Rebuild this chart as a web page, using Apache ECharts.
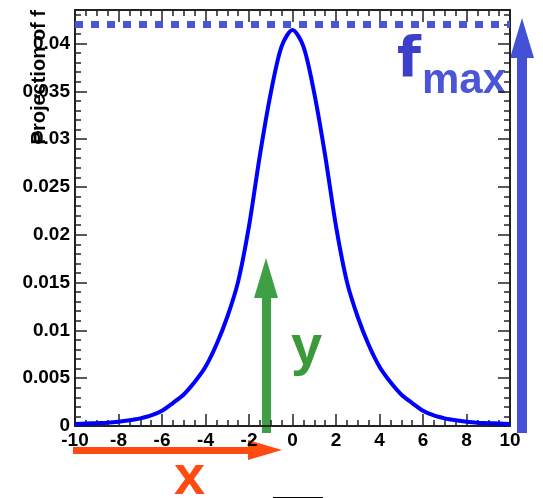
<!DOCTYPE html>
<html>
<head>
<meta charset="utf-8">
<script src="https://cdn.jsdelivr.net/npm/echarts@6/dist/echarts.min.js"></script>
<style>
  html, body { margin: 0; padding: 0; background: #fff; }
  #main { width: 543px; height: 498px; }
</style>
</head>
<body>
<div id="main"></div>
<script>
// values
var xValues = [-10, -9.5, -9, -8.5, -8, -7.5, -7, -6.5, -6, -5.5, -5, -4.5, -4, -3.5, -3, -2.5, -2, -1.5, -1, -0.5,
  0, 0.5, 1, 1.5, 2, 2.5, 3, 3.5, 4, 4.5, 5, 5.5, 6, 6.5, 7, 7.5, 8, 8.5, 9, 9.5, 10];
var fValues = [0.0002, 0.00025, 0.0003, 0.00035, 0.00045, 0.0006, 0.0008, 0.0011, 0.0016, 0.0024, 0.0033, 0.0046,
  0.0062, 0.0085, 0.0114, 0.0151, 0.0209, 0.0283, 0.0348, 0.0397,
  0.0414, 0.0397, 0.0348, 0.0283, 0.0209, 0.0151, 0.0114, 0.0085, 0.0062, 0.0046, 0.0033, 0.0024, 0.0016,
  0.0011, 0.0008, 0.0006, 0.00045, 0.00035, 0.0003, 0.00025, 0.0002];
var fMax = 0.0420;

var points = xValues.map(function (x, i) { return [x, fValues[i]]; });

var myChart = echarts.init(document.getElementById('main'));

var labelFont = { color: '#000', fontWeight: 'bold', fontSize: 19, fontFamily: 'Liberation Sans' };
var axisLine = { show: true, onZero: false, lineStyle: { color: '#222', width: 2 } };

function xAx(pos, labels) {
  return {
    type: 'value', position: pos, min: -10, max: 10, interval: 2,
    axisLine: axisLine,
    axisTick: { show: true, inside: true, length: 12, lineStyle: { color: '#222', width: 1.5 } },
    minorTick: { show: true, splitNumber: 4, length: 6, lineStyle: { color: '#222', width: 1.5 } },
    axisLabel: labels ? Object.assign({ margin: 5 }, labelFont) : { show: false },
    splitLine: { show: false }, minorSplitLine: { show: false }
  };
}
function yAx(pos, labels) {
  return {
    type: 'value', position: pos, min: 0, max: 0.0435, interval: 0.005,
    axisLine: axisLine,
    axisTick: { show: true, inside: true, length: 12, lineStyle: { color: '#222', width: 1.5 } },
    minorTick: { show: true, splitNumber: 5, length: 6, lineStyle: { color: '#222', width: 1.5 } },
    axisLabel: labels ? Object.assign({ margin: 5, showMaxLabel: false }, labelFont) : { show: false },
    splitLine: { show: false }, minorSplitLine: { show: false }
  };
}

var option = {
  animation: false,
  grid: { left: 75, right: 33, top: 10, bottom: 72 },
  xAxis: [xAx('bottom', true), xAx('top', false)],
  yAxis: [yAx('left', true), yAx('right', false)],
  series: [
    {
      type: 'line',
      data: points,
      smooth: 0.3,
      showSymbol: false,
      lineStyle: { color: '#0000ff', width: 4 },
      markLine: {
        silent: true,
        symbol: 'none',
        precision: 5,
        label: { show: false },
        lineStyle: { color: '#4a55d8', width: 7, type: [8, 8], cap: 'butt' },
        data: [{ yAxis: fMax }]
      }
    }
  ],
  graphic: [
    // y axis title
    { type: 'text', x: 39, y: 10, rotation: Math.PI / 2,
      style: { text: 'Projection of f', align: 'right', verticalAlign: 'middle',
        fill: '#000', font: 'bold 20px "Liberation Sans"' } },
    // blue fmax arrow
    { type: 'rect', shape: { x: 517, y: 57, width: 10, height: 376 }, style: { fill: '#4450d6' } },
    { type: 'polygon', shape: { points: [[510, 58], [534, 58], [522, 18]] }, style: { fill: '#4450d6' } },
    { type: 'text', x: 397, y: 62, style: { text: 'f', align: 'left', verticalAlign: 'middle',
      fill: '#3b3fc9', font: 'bold 55px "DejaVu Sans"' } },
    { type: 'text', x: 422, y: 81, style: { text: 'max', align: 'left', verticalAlign: 'middle',
      fill: '#4a55d8', font: 'bold 42px "Liberation Sans"' } },
    // green y arrow
    { type: 'rect', shape: { x: 262, y: 297, width: 9, height: 136 }, style: { fill: '#3f9f45' } },
    { type: 'polygon', shape: { points: [[254, 298], [278, 298], [266, 258]] }, style: { fill: '#3f9f45' } },
    { type: 'text', x: 291, y: 349, style: { text: 'y', align: 'left', verticalAlign: 'middle',
      fill: '#3a9a3a', font: 'bold 56px "Liberation Sans"' } },
    // orange x arrow
    { type: 'rect', shape: { x: 73, y: 447, width: 176, height: 7 }, style: { fill: '#ff4b0f' } },
    { type: 'polygon', shape: { points: [[248, 440], [248, 460], [282, 450]] }, style: { fill: '#ff4b0f' } },
    { type: 'text', x: 174, y: 479, style: { text: 'x', align: 'left', verticalAlign: 'middle',
      fill: '#ff4b0f', font: 'bold 56px "Liberation Sans"' } },
    // small black stroke at the bottom edge
    { type: 'line', shape: { x1: 273, y1: 497.5, x2: 323, y2: 497.5 }, style: { stroke: '#000', lineWidth: 1 } }
  ]
};

myChart.setOption(option);
</script>
</body>
</html>
